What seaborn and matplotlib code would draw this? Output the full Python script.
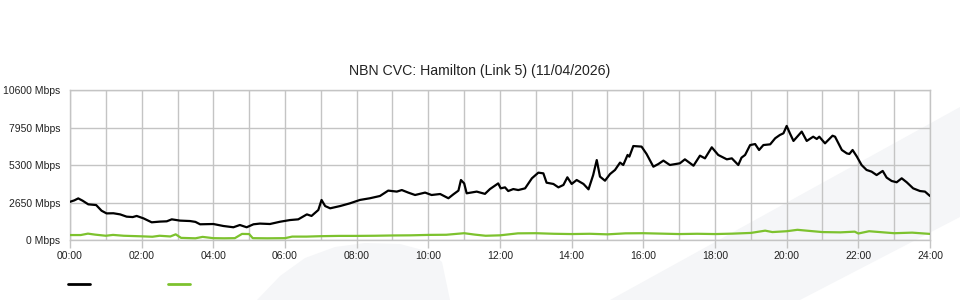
import matplotlib
matplotlib.use("Agg")
import matplotlib.pyplot as plt
from matplotlib.patches import Polygon
from matplotlib.lines import Line2D
import seaborn as sns
import pandas as pd

title = "NBN CVC: Hamilton (Link 5) (11/04/2026)"

# black series: (hour, Mbps)
black_hours = [0.00, 0.12, 0.23, 0.35, 0.51, 0.73, 0.88, 1.02, 1.21, 1.40, 1.58, 1.75, 1.86, 2.05,
               2.28, 2.51, 2.70, 2.84, 3.07, 3.35, 3.50, 3.63, 4.00, 4.28, 4.56, 4.74, 4.93, 5.12,
               5.30, 5.58, 5.86, 6.14, 6.37, 6.61, 6.74, 6.93, 7.02, 7.12, 7.26, 7.54, 7.81, 8.09,
               8.37, 8.65, 8.88, 9.12, 9.26, 9.44, 9.63, 9.91, 10.09, 10.33, 10.56, 10.70, 10.84,
               10.91, 11.00, 11.07, 11.35, 11.58, 11.72, 11.95, 12.02, 12.14, 12.23, 12.37, 12.51,
               12.70, 12.89, 13.07, 13.21, 13.30, 13.49, 13.63, 13.77, 13.88, 14.00, 14.14, 14.33,
               14.47, 14.60, 14.70, 14.79, 14.93, 15.07, 15.21, 15.35, 15.44, 15.56, 15.61, 15.72,
               15.95, 16.09, 16.28, 16.42, 16.56, 16.74, 17.02, 17.16, 17.40, 17.58, 17.72, 17.91,
               18.09, 18.33, 18.47, 18.65, 18.74, 18.84, 18.98, 19.12, 19.23, 19.35, 19.54, 19.68,
               19.81, 19.91, 20.00, 20.09, 20.19, 20.42, 20.56, 20.74, 20.84, 20.91, 21.07, 21.28,
               21.35, 21.54, 21.68, 21.75, 21.84, 21.96, 22.09, 22.23, 22.37, 22.51, 22.68, 22.79,
               22.93, 23.07, 23.21, 23.35, 23.53, 23.72, 23.86, 24.00]
black_mbps = [2700, 2800, 2940, 2780, 2520, 2470, 2070, 1880, 1890, 1810, 1650, 1620, 1700, 1530,
              1250, 1300, 1320, 1460, 1370, 1340, 1280, 1110, 1130, 990, 900, 1060, 900, 1110,
              1160, 1130, 1290, 1410, 1460, 1810, 1700, 2120, 2830, 2400, 2240, 2400, 2590, 2830,
              2950, 3110, 3490, 3420, 3530, 3350, 3180, 3350, 3180, 3250, 2950, 3230, 3490,
              4240, 4000, 3300, 3420, 3260, 3600, 4000, 3650, 3720, 3460, 3600, 3530,
              3650, 4360, 4760, 4710, 4050, 3960, 3720, 3890, 4430, 3960, 4240, 3960,
              3580, 4590, 5650, 4480, 4190, 4660, 4950, 5470, 5300, 6010, 5890, 6640,
              6600, 6080, 5180, 5370, 5610, 5300, 5420, 5700, 5250, 5960, 5770, 6550,
              6010, 5700, 5770, 5300, 5820, 6010, 6710, 6780, 6360, 6710, 6760, 7190,
              7420, 7540, 8060, 7540, 7000, 7660, 7000, 7300, 7140, 7300, 6830, 7370,
              7300, 6360, 6120, 6080, 6360, 5890, 5300, 4950, 4830, 4590, 4880, 4410,
              4170, 4080, 4360, 4080, 3650, 3460, 3420, 3110]

# green series: (hour, Mbps)
green_hours = [0.0, 0.3, 0.5, 0.7, 1.0, 1.2, 1.5, 2.0, 2.3, 2.5, 2.8, 2.95, 3.1, 3.5, 3.7, 4.0,
               4.3, 4.6, 4.8, 5.0, 5.1, 5.5, 6.0, 6.2, 6.6, 7.0, 7.5, 8.0, 8.5, 9.0, 9.5, 10.0,
               10.5, 11.0, 11.3, 11.6, 12.0, 12.5, 13.0, 13.5, 14.0, 14.5, 15.0, 15.5, 16.0,
               16.5, 17.0, 17.5, 18.0, 18.5, 19.0, 19.4, 19.6, 20.0, 20.3, 20.6, 21.0, 21.5,
               21.9, 22.0, 22.3, 22.6, 23.0, 23.5, 24.0]
green_mbps = [350, 350, 450, 380, 300, 360, 300, 260, 230, 300, 250, 400, 150, 120, 220, 130,
              120, 130, 430, 420, 130, 120, 130, 240, 240, 270, 290, 290, 300, 320, 330, 360,
              370, 480, 380, 300, 330, 470, 480, 440, 420, 440, 400, 470, 480,
              450, 420, 440, 420, 450, 500, 660, 560, 620, 720, 650, 560, 540,
              590, 460, 620, 560, 480, 520, 430]

y_ticks = [0, 2650, 5300, 7950, 10600]
y_tick_labels = [f"{v} Mbps" for v in y_ticks]
x_major = list(range(0, 25, 2))
x_tick_labels = [f"{h:02d}:00" for h in x_major]
x_minor = list(range(0, 25, 1))

sns.set_theme(style="white")
plt.rcParams["font.family"] = ["Liberation Sans", "DejaVu Sans"]

W, H = 960, 300
fig = plt.figure(figsize=(9.6, 3.0), dpi=100)
fig.patch.set_facecolor("white")

# faint watermark shapes in the background (figure pixel coords -> fraction)
def fp(pts):
    return [(x / W, 1 - y / H) for x, y in pts]

wm = "#f5f6f8"
fig.patches.append(Polygon(fp([(610, 300), (960, 107), (960, 217), (800, 300)]),
                           closed=True, transform=fig.transFigure, facecolor=wm,
                           edgecolor="none", zorder=-5))
fig.patches.append(Polygon(fp([(257, 300), (280, 276), (305, 258), (335, 247), (365, 243),
                               (400, 244), (430, 252), (442, 262), (450, 300)]),
                           closed=True, transform=fig.transFigure, facecolor=wm,
                           edgecolor="none", zorder=-5))

ax = fig.add_axes([70 / W, 1 - 240 / H, 860 / W, 150 / H])
ax.set_zorder(2)
ax.set_facecolor("none")
ax.patch.set_alpha(0)

df_b = pd.DataFrame({"hour": black_hours, "mbps": black_mbps})
df_g = pd.DataFrame({"hour": green_hours, "mbps": green_mbps})
sns.lineplot(data=df_g, x="hour", y="mbps", ax=ax, color="#7dc22e", linewidth=1.6, zorder=3)
sns.lineplot(data=df_b, x="hour", y="mbps", ax=ax, color="#000000", linewidth=1.6, zorder=4)

grid_c = "#c4c4c4"
ax.set_xlim(0, 24)
ax.set_ylim(0, 10600)
ax.set_xticks(x_major)
ax.set_xticklabels(x_tick_labels)
ax.set_xticks(x_minor, minor=True)
ax.set_yticks(y_ticks)
ax.set_yticklabels(y_tick_labels)
ax.set_xlabel("")
ax.set_ylabel("")
ax.grid(True, which="both", axis="x", color=grid_c, linewidth=1.0)
ax.grid(True, which="major", axis="y", color=grid_c, linewidth=1.0)
ax.set_axisbelow(True)
for s in ax.spines.values():
    s.set_color(grid_c)
    s.set_linewidth(1.0)
ax.tick_params(axis="x", which="major", direction="out", length=6, width=1.0, color=grid_c,
               pad=2, labelsize=7.5, labelcolor="#222222", bottom=True)
ax.tick_params(axis="x", which="minor", length=0)
ax.tick_params(axis="y", which="major", length=0, pad=7, labelsize=7.5, labelcolor="#222222")

fig.text(0.5, 1 - 71 / H, title, fontsize=10.2, color="#222222", ha="center", va="center")

handles = [Line2D([], [], color="#000000", linewidth=2.0),
           Line2D([], [], color="#7dc22e", linewidth=2.0)]
fig.legend(handles, ["", ""], loc="center left", bbox_to_anchor=(68 / W, 1 - 285 / H),
           ncol=2, frameon=False, fontsize=7.5, handlelength=2.1, handletextpad=0,
           columnspacing=7.5, borderpad=0, borderaxespad=0)

fig.savefig("out.png", dpi=100, facecolor="white")
